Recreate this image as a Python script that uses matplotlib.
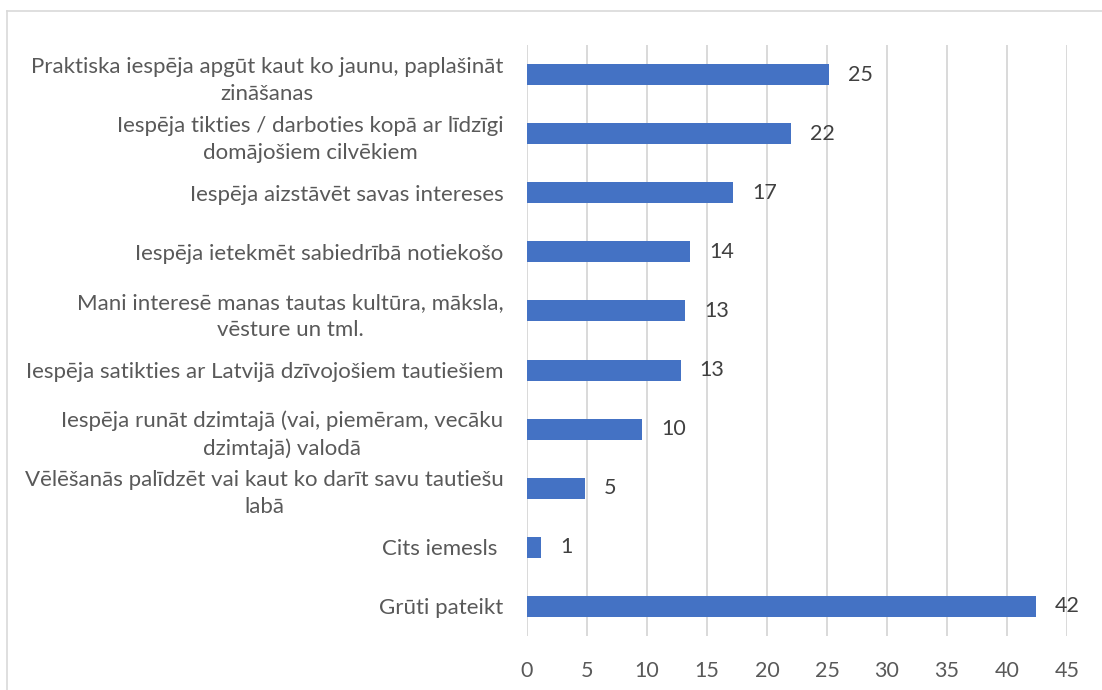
import matplotlib.pyplot as plt
from matplotlib.lines import Line2D

plt.rcParams['font.family'] = ['Lato', 'DejaVu Sans']

# categories, top to bottom
categories = [
    "Praktiska iespēja apgūt kaut ko jaunu, paplašināt\nzināšanas",
    "Iespēja tikties / darboties kopā ar līdzīgi\ndomājošiem cilvēkiem",
    "Iespēja aizstāvēt savas intereses",
    "Iespēja ietekmēt sabiedrībā notiekošo",
    "Mani interesē manas tautas kultūra, māksla,\nvēsture un tml.",
    "Iespēja satikties ar Latvijā dzīvojošiem tautiešiem",
    "Iespēja runāt dzimtajā (vai, piemēram, vecāku\ndzimtajā) valodā",
    "Vēlēšanās palīdzēt vai kaut ko darīt savu tautiešu\nlabā",
    "Cits iemesls ",
    "Grūti pateikt",
]
values = [25.2, 22.0, 17.2, 13.6, 13.2, 12.8, 9.6, 4.8, 1.2, 42.4]
x_ticks = [0, 5, 10, 15, 20, 25, 30, 35, 40, 45]

fig = plt.figure(figsize=(11.02, 6.9), dpi=100)
ax = fig.add_axes([527 / 1102, 1 - 636 / 690, 540 / 1102, 591 / 690])

ypos = list(range(len(categories)))
ax.barh(ypos, values, height=0.355, color='#4472C4', zorder=3)

for y, v in zip(ypos, values):
    ax.annotate(f"{v:.0f}", xy=(v, y), xytext=(19, 0), textcoords='offset pixels',
                ha='left', va='center', fontsize=15.5, color='#404040')

ax.set_xlim(0, 45)
ax.set_ylim(9.5, -0.5)
ax.set_xticks(x_ticks)
ax.set_yticks(ypos)
ax.set_yticklabels(categories)
for lbl in ax.get_yticklabels():
    lbl.set_multialignment('center')
    lbl.set_linespacing(1.45)
    lbl.set_fontsize(16)

ax.tick_params(axis='both', length=0, labelcolor='#595959')
ax.tick_params(axis='x', pad=18, labelsize=15.5)
ax.tick_params(axis='y', pad=17)
ax.grid(axis='x', color='#D9D9D9', linewidth=1.4, zorder=0)
for s in ax.spines.values():
    s.set_visible(False)

# chart area border (only left and top are visible in the crop)
fx = 7 / 1102
fy = 1 - 11 / 690
fig.add_artist(Line2D([fx, fx], [0, fy], color='#D9D9D9', linewidth=1.2))
fig.add_artist(Line2D([fx, 1], [fy, fy], color='#D9D9D9', linewidth=1.2))

fig.savefig('out.png', dpi=100, facecolor='white')
